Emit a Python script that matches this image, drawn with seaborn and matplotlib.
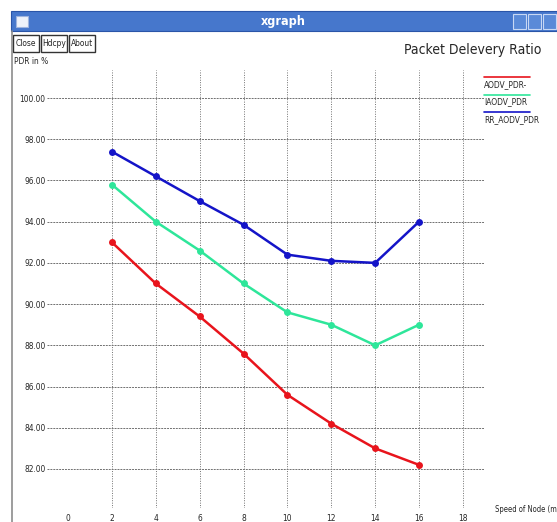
import matplotlib
matplotlib.use("Agg")
import matplotlib.pyplot as plt
from matplotlib.patches import Rectangle
from matplotlib.lines import Line2D
import numpy as np
import pandas as pd
import seaborn as sns

# values
speed = [2, 4, 6, 8, 10, 12, 14, 16]
aodv_pdr = [93.0, 91.0, 89.4, 87.6, 85.6, 84.2, 83.0, 82.2]
iaodv_pdr = [95.8, 94.0, 92.6, 91.0, 89.6, 89.0, 88.0, 89.0]
rr_aodv_pdr = [97.4, 96.2, 95.0, 93.85, 92.4, 92.1, 92.0, 94.0]
series_names = ["AODV_PDR-", "IAODV_PDR", "RR_AODV_PDR"]
series_colors = ["#e8141c", "#2ee69a", "#1414c8"]
x_ticks = [0, 2, 4, 6, 8, 10, 12, 14, 16, 18]
y_ticks = [82, 84, 86, 88, 90, 92, 94, 96, 98, 100]

df = pd.DataFrame({
    "speed": speed * 3,
    "pdr": aodv_pdr + iaodv_pdr + rr_aodv_pdr,
    "series": [n for n in series_names for _ in speed],
})

sns.set_style("white")
plt.rcParams["font.family"] = ["DejaVu Sans"]
plt.rcParams["font.stretch"] = "condensed"

W, H = 557, 522
fig = plt.figure(figsize=(W / 100, H / 100), dpi=100)
fig.patch.set_facecolor("white")


def px(x, y):
    return x / W, 1 - y / H


# window chrome
fig.add_artist(Rectangle(px(11, 31), (W - 11) / W, 20 / H, transform=fig.transFigure,
                         facecolor="#4677cc", edgecolor="#2a55a8", lw=0.8))
fig.add_artist(Rectangle(px(16, 27), 12 / W, 11 / H, transform=fig.transFigure,
                         facecolor="#eef2fa", edgecolor="#9fb4de", lw=0.8))
for bx in [513, 528, 543]:
    fig.add_artist(Rectangle(px(bx, 29), 13 / W, 15 / H, transform=fig.transFigure,
                             facecolor="#5a8ad8", edgecolor="#c8d8f4", lw=0.8))
fig.text(*px(283, 22), "xgraph", color="white", fontsize=9, fontweight="bold",
         ha="center", va="center")
fig.add_artist(Line2D([11.5 / W, 11.5 / W], [0, 1 - 31 / H], transform=fig.transFigure,
                      color="#8c8c8c", lw=1.2))

# buttons
for label, x0, x1 in [("Close", 13, 39), ("Hdcpy", 41, 67), ("About", 69, 95)]:
    fig.add_artist(Rectangle(px(x0, 52), (x1 - x0) / W, 17 / H, transform=fig.transFigure,
                             facecolor="white", edgecolor="#333333", lw=1.0))
    fig.text(*px((x0 + x1) / 2, 44), label, fontsize=6, ha="center", va="center")

fig.text(*px(14, 62), "PDR in %", fontsize=6, ha="left", va="center")
fig.text(*px(473, 50), "Packet Delevery Ratio", fontsize=10, ha="center", va="center")
fig.text(*px(495, 510), "Speed of Node (m/s)", fontsize=5.5, ha="left", va="center")

# plot area
left, right, top, bottom = 47, 484, 70, 508
ax = fig.add_axes([left / W, 1 - bottom / H, (right - left) / W, (bottom - top) / H])
x0_px, x_per = 68, 21.94
y100_px, y_per = 98, 20.61
ax.set_xlim((left - x0_px) / x_per, (right - x0_px) / x_per)
ax.set_ylim(82 - (bottom - 469) / y_per, 100 + (y100_px - top) / y_per)
ax.set_facecolor("white")
for s in ax.spines.values():
    s.set_visible(False)

ax.set_xticks(x_ticks)
ax.set_xticklabels([str(v) for v in x_ticks], fontsize=6)
ax.set_yticks(y_ticks)
ax.set_yticklabels(["%.2f" % v for v in y_ticks], fontsize=6)
ax.tick_params(axis="both", length=0, pad=1)
ax.tick_params(axis="x", pad=4)
ax.grid(True, axis="y", color="#707070", lw=0.7, linestyle=(0, (2, 1)))
ax.grid(True, axis="x", color="#707070", lw=0.7, linestyle=(0, (1, 1.5)))
ax.get_xgridlines()[0].set_visible(False)
ax.set_axisbelow(True)

sns.lineplot(data=df, x="speed", y="pdr", hue="series", hue_order=series_names,
             palette=series_colors, marker="o", markersize=5, markeredgewidth=0,
             linewidth=1.8, legend=False, ax=ax)
ax.set_xlabel("")
ax.set_ylabel("")

# legend in xgraph style: colored line above each name
for i, (name, c) in enumerate(zip(series_names, series_colors)):
    y_line = 77 + i * 17.5
    fig.add_artist(Line2D([484 / W, 530 / W], [1 - y_line / H] * 2, transform=fig.transFigure,
                          color=c, lw=1.2))
    fig.text(*px(484, y_line + 7.5), name, fontsize=6, ha="left", va="center")

fig.savefig("out.png", dpi=100)
